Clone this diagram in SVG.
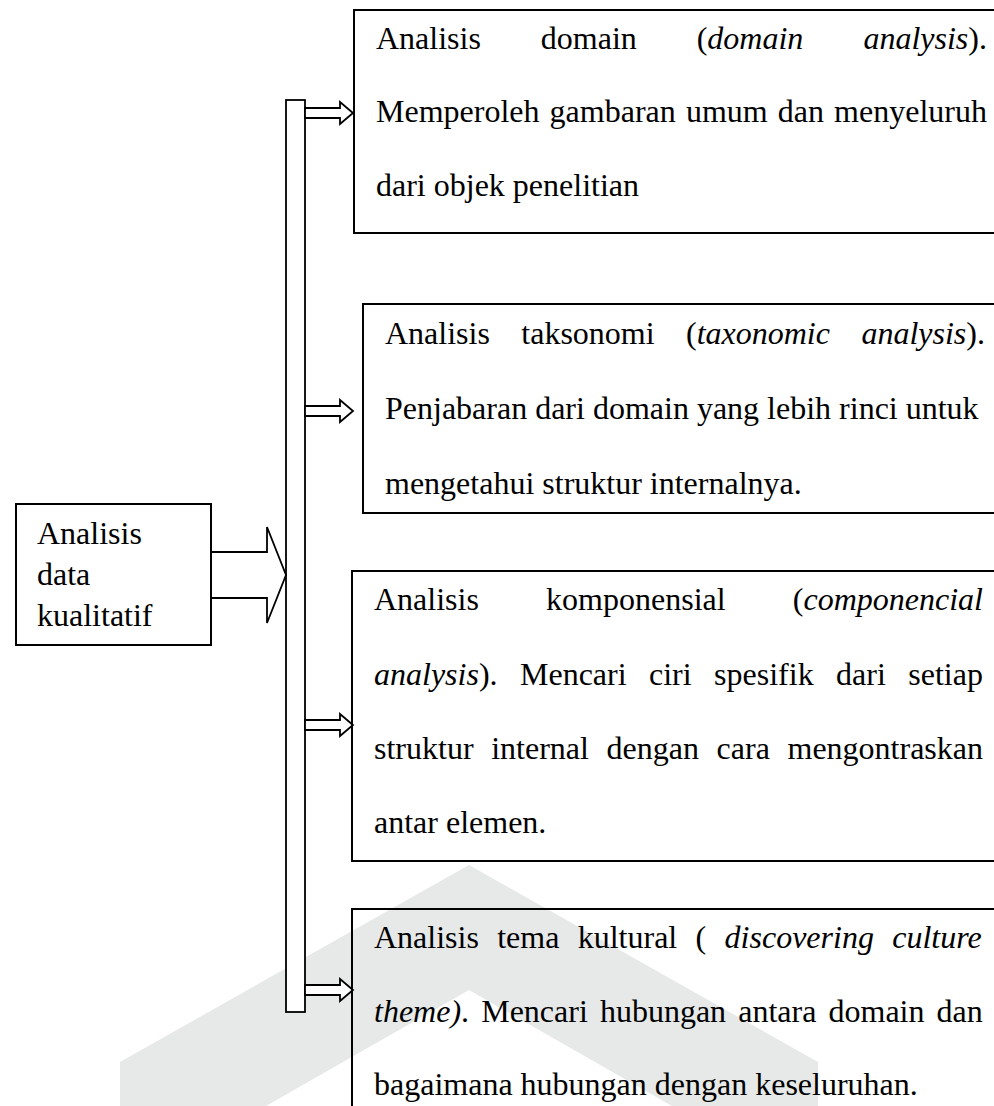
<svg xmlns="http://www.w3.org/2000/svg" width="994" height="1106" viewBox="0 0 994 1106">
<style>
.box{fill:none;stroke:#000;stroke-width:2}
.bx{fill:#fff;stroke:#000;stroke-width:2}
.conn{fill:#fff;stroke:#000;stroke-width:1.8;stroke-linejoin:miter}
.t{font-family:"Liberation Serif","Times New Roman",serif;font-size:32px;fill:#000}
.i{font-style:italic}
</style>
<rect width="994" height="1106" fill="#fff"/>
<g id="watermark">
<polygon points="120,1106 120,1062 469,865 818,1062 818,1106 672,1106 469,990 266,1106" fill="#e6e9e8"/>
</g>
<g id="connectors">
<rect class="conn" x="286" y="100" width="19" height="912"/>
<polygon class="conn" points="211,552 267,552 267,527 286,575 267,623 267,598 211,598"/>
<polygon class="conn" points="305,108 340,108 340,102 353,113 340,124 340,118 305,118"/>
<polygon class="conn" points="305,406 340,406 340,400 353,411 340,422 340,416 305,416"/>
<polygon class="conn" points="305,720 340,720 340,714 353,725 340,736 340,730 305,730"/>
<polygon class="conn" points="305,985 340,985 340,979 353,990 340,1001 340,995 305,995"/>
</g>
<g id="node-source">
<rect class="bx" x="16" y="504" width="195" height="141"/>
<text class="t" x="37" y="544">Analisis</text>
<text class="t" x="37" y="585">data</text>
<text class="t" x="37" y="626">kualitatif</text>
</g>
<g id="node-domain">
<rect class="box" x="354" y="10" width="660" height="223"/>
<text class="t"><tspan x="376" y="49">Analisis</tspan><tspan x="540.8" y="49">domain</tspan><tspan x="696.7" y="49">(<tspan class="i">domain</tspan></tspan><tspan x="863.4" y="49"><tspan class="i">analysis</tspan>).</tspan></text>
<text class="t"><tspan x="376" y="122">Memperoleh</tspan><tspan x="549.6" y="122">gambaran</tspan><tspan x="685.9" y="122">umum</tspan><tspan x="777.8" y="122">dan</tspan><tspan x="834.1" y="122">menyeluruh</tspan></text>
<text class="t" x="376" y="196">dari objek penelitian</text>
</g>
<g id="node-taksonomi">
<rect class="box" x="363" y="304" width="651" height="209"/>
<text class="t"><tspan x="385" y="344">Analisis</tspan><tspan x="521.3" y="344">taksonomi</tspan><tspan x="686" y="344">(<tspan class="i">taxonomic</tspan></tspan><tspan x="861.4" y="344"><tspan class="i">analysis</tspan>).</tspan></text>
<text class="t" x="385" y="419">Penjabaran dari domain yang lebih rinci untuk</text>
<text class="t" x="385" y="494">mengetahui struktur internalnya.</text>
</g>
<g id="node-komponensial">
<rect class="box" x="352" y="571" width="662" height="290"/>
<text class="t"><tspan x="374" y="610">Analisis</tspan><tspan x="546.1" y="610">komponensial</tspan><tspan x="792.8" y="610">(<tspan class="i">componencial</tspan></tspan></text>
<text class="t"><tspan x="374" y="685"><tspan class="i">analysis</tspan>).</tspan><tspan x="520" y="685">Mencari</tspan><tspan x="649" y="685">ciri</tspan><tspan x="714.1" y="685">spesifik</tspan><tspan x="836.1" y="685">dari</tspan><tspan x="908.3" y="685">setiap</tspan></text>
<text class="t"><tspan x="374" y="759">struktur</tspan><tspan x="491.2" y="759">internal</tspan><tspan x="606.6" y="759">dengan</tspan><tspan x="716.6" y="759">cara</tspan><tspan x="787.5" y="759">mengontraskan</tspan></text>
<text class="t" x="374" y="833">antar elemen.</text>
</g>
<g id="node-kultural">
<rect class="box" x="352" y="909" width="662" height="220"/>
<text class="t"><tspan x="374" y="948">Analisis</tspan><tspan x="497.2" y="948">tema</tspan><tspan x="577.7" y="948">kultural</tspan><tspan x="695.6" y="948">(</tspan><tspan class="i" x="724.6" y="948">discovering</tspan><tspan class="i" x="892.2" y="948">culture</tspan></text>
<text class="t"><tspan x="374" y="1022"><tspan class="i">theme)</tspan>.</tspan><tspan x="481.2" y="1022">Mencari</tspan><tspan x="599.9" y="1022">hubungan</tspan><tspan x="738.2" y="1022">antara</tspan><tspan x="828.5" y="1022">domain</tspan><tspan x="936.6" y="1022">dan</tspan></text>
<text class="t" x="374" y="1095">bagaimana hubungan dengan keseluruhan.</text>
</g>
</svg>
